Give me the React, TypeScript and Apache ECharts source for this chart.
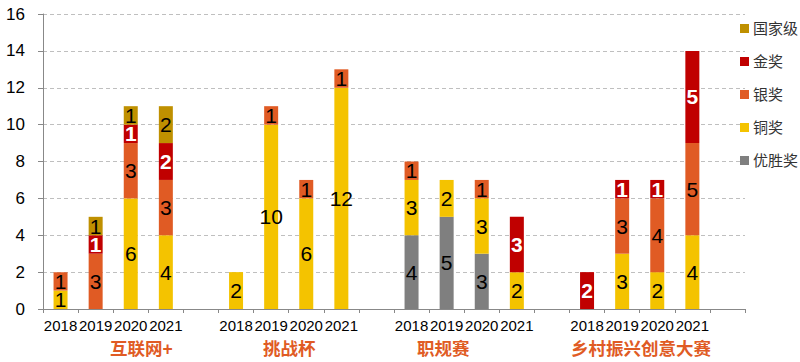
import React, { useEffect, useRef } from "react";
import * as echarts from "echarts";

const groups = ["互联网+", "挑战杯", "职规赛", "乡村振兴创意大赛"];
const years = ["2018", "2019", "2020", "2021"];
const yTicks = { min: 0, max: 16, interval: 2 };

// values per group, 4 years each (null = no bar segment)
const youSheng = [null, null, null, null, null, null, null, null, 4, 5, 3, null, null, null, null, null];
const tongJiang = [1, null, 6, 4, 2, 10, 6, 12, 3, 2, 3, 2, null, 3, 2, 4];
const yinJiang = [1, 3, 3, 3, null, 1, 1, 1, 1, null, 1, null, null, 3, 4, 5];
const jinJiang = [null, 1, 1, 2, null, null, null, null, null, null, null, 3, 2, 1, 1, 5];
const guoJia = [null, 1, 1, 2, null, null, null, null, null, null, null, null, null, null, null, null];

const seriesNames = ["优胜奖", "铜奖", "银奖", "金奖", "国家级"];
const seriesValues = [youSheng, tongJiang, yinJiang, jinJiang, guoJia];
const seriesColors = ["#7F7F7F", "#F4C300", "#E05B24", "#C00000", "#BF9000"];
const legendOrder = ["国家级", "金奖", "银奖", "铜奖", "优胜奖"];

const FONT = "'Liberation Sans', Arial, 'Noto Sans CJK SC', sans-serif";

function withGaps(vals: (number | null)[]) {
  const out: (number | null)[] = [];
  groups.forEach((_, g) => {
    years.forEach((__, y) => out.push(vals[g * 4 + y]));
    out.push(null);
  });
  return out;
}

const categories: string[] = [];
groups.forEach(() => {
  years.forEach((y) => categories.push(y));
  categories.push("");
});

export default function App() {
  const ref = useRef<HTMLDivElement>(null);
  useEffect(() => {
    const chart = echarts.init(ref.current!, undefined, { renderer: "svg" });
    const groupLabelX = [110, 263, 417, 571];
    chart.setOption({
      animation: false,
      textStyle: { fontFamily: FONT },
      grid: { left: 43, right: 55, top: 14, bottom: 53, containLabel: false },
      legend: {
        data: legendOrder,
        orient: "vertical",
        left: 735,
        top: 16,
        itemWidth: 9,
        itemHeight: 9,
        itemGap: 18,
        icon: "rect",
        textStyle: { fontSize: 15, color: "#333", fontFamily: FONT, padding: [0, 0, 0, -1] },
      },
      xAxis: {
        type: "category",
        data: categories,
        boundaryGap: true,
        axisLine: { show: true, lineStyle: { color: "#888", width: 1 } },
        axisTick: { show: true, interval: 0, length: 4, lineStyle: { color: "#888" } },
        axisLabel: { interval: 0, fontSize: 15, color: "#000", margin: 9, fontFamily: FONT },
      },
      yAxis: {
        type: "value",
        min: yTicks.min,
        max: yTicks.max,
        interval: yTicks.interval,
        axisLine: { show: true, lineStyle: { color: "#888", width: 1 } },
        axisTick: { show: true, length: 5, lineStyle: { color: "#888" } },
        axisLabel: { fontSize: 17, color: "#000", margin: 18, fontFamily: FONT },
        splitLine: { show: true, lineStyle: { color: "#BFBFBF", type: [4, 3] } },
      },
      graphic: groups.map((g, i) => ({
        type: "text",
        left: groupLabelX[i],
        top: 340,
        style: {
          text: g,
          fontSize: 17.5,
          fontWeight: "bold",
          fill: "#E05B24",
          fontFamily: FONT,
        },
      })),
      series: seriesNames.map((name, i) => ({
        name,
        type: "bar",
        stack: "total",
        barWidth: 14,
        itemStyle: { color: seriesColors[i] },
        data: withGaps(seriesValues[i]),
        label: {
          show: true,
          position: "inside",
          fontSize: 21,
          fontFamily: FONT,
          color: name === "金奖" ? "#fff" : "#000",
          fontWeight: name === "金奖" ? "bold" : "normal",
          formatter: (p: any) => (p.value == null ? "" : String(p.value)),
        },
      })),
    });
    return () => chart.dispose();
  }, []);
  return (
    <div
      ref={ref}
      style={{ position: "fixed", left: 0, top: 0, width: 800, height: 362, background: "#fff" }}
    />
  );
}
